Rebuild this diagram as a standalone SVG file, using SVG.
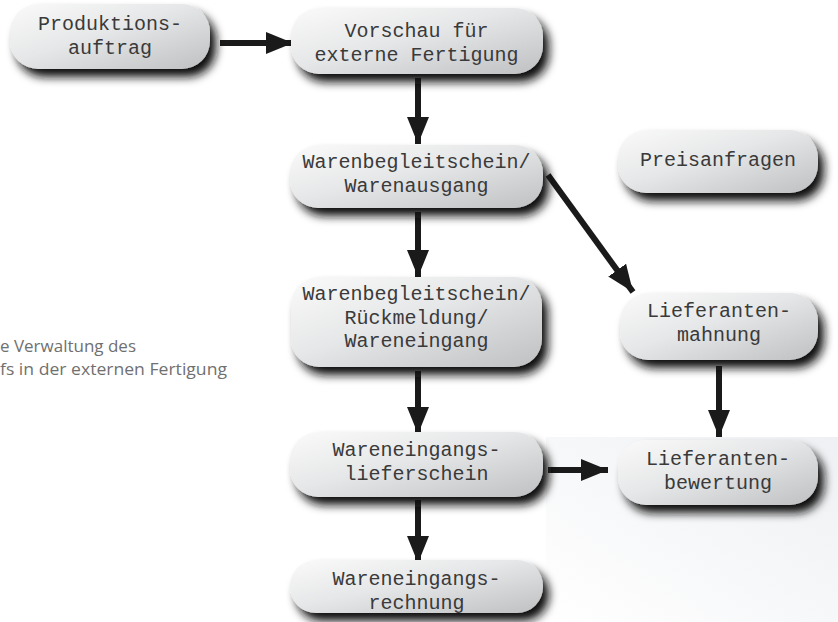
<svg xmlns="http://www.w3.org/2000/svg" width="838" height="622" viewBox="0 0 838 622">
<defs>
<linearGradient id="boxFill" x1="0" y1="0" x2="1" y2="1">
<stop offset="0" stop-color="#fafafa"/>
<stop offset="0.45" stop-color="#e6e7e8"/>
<stop offset="1" stop-color="#bfc0c2"/>
</linearGradient>
<linearGradient id="bgFill" x1="1" y1="0" x2="0" y2="1">
<stop offset="0" stop-color="#eef0f3"/>
<stop offset="1" stop-color="#ffffff"/>
</linearGradient>
<filter id="shadow" x="-20%" y="-30%" width="150%" height="190%">
<feGaussianBlur in="SourceAlpha" stdDeviation="5"/>
<feOffset dx="6" dy="8" result="b"/>
<feFlood flood-color="#111111" flood-opacity="1"/>
<feComposite in2="b" operator="in" result="s"/>
<feMerge><feMergeNode in="s"/><feMergeNode in="SourceGraphic"/></feMerge>
</filter>
<marker id="arrow" markerUnits="userSpaceOnUse" markerWidth="28" markerHeight="24" refX="27" refY="11" orient="auto">
<path d="M0,0 L27,11 L0,22 z" fill="#1a1a1a"/>
</marker>
<style>
.box{fill:url(#boxFill);filter:url(#shadow)}
.lbl{font-family:"Liberation Mono","Courier New",monospace;font-size:20px;fill:#3a3a3a;text-anchor:middle}
.conn{stroke:#1a1a1a;stroke-width:6;fill:none;marker-end:url(#arrow)}
.note{font-family:"Open Sans","Liberation Sans",sans-serif;font-size:17px;fill:#707070}
</style>
</defs>
<rect x="546" y="437" width="292" height="185" fill="url(#bgFill)"/>
<g id="offscreen-node"><rect class="box" x="-200" y="145" width="198" height="63" rx="28"/></g>
<text class="note" x="0" y="352" textLength="136" lengthAdjust="spacingAndGlyphs">e Verwaltung des</text>
<text class="note" x="0" y="375" textLength="227" lengthAdjust="spacingAndGlyphs">fs in der externen Fertigung</text>
<g id="connectors">
<line class="conn" x1="220" y1="43" x2="293" y2="43"/>
<line class="conn" x1="418" y1="78" x2="418" y2="144"/>
<line class="conn" x1="418" y1="212" x2="418" y2="277"/>
<line class="conn" x1="418" y1="371" x2="418" y2="434"/>
<line class="conn" x1="418" y1="500" x2="418" y2="563"/>
<line class="conn" x1="548" y1="175" x2="633" y2="292"/>
<line class="conn" x1="548" y1="470" x2="608" y2="470"/>
<line class="conn" x1="719" y1="366" x2="719" y2="437"/>
</g>
<g id="produktionsauftrag"><rect class="box" x="10" y="4" width="200" height="65" rx="28"/><text class="lbl" x="110" y="30">Produktions-</text><text class="lbl" x="110" y="53.5">auftrag</text></g>
<g id="vorschau"><rect class="box" x="291" y="8" width="252" height="66" rx="28"/><text class="lbl" x="416.5" y="37">Vorschau für</text><text class="lbl" x="416.5" y="60.5">externe Fertigung</text></g>
<g id="warenausgang"><rect class="box" x="290" y="145" width="253" height="63" rx="28"/><text class="lbl" x="416.5" y="168">Warenbegleitschein/</text><text class="lbl" x="416.5" y="191.5">Warenausgang</text></g>
<g id="preisanfragen"><rect class="box" x="618" y="130" width="200" height="63" rx="28"/><text class="lbl" x="718" y="166">Preisanfragen</text></g>
<g id="rueckmeldung"><rect class="box" x="291" y="277" width="251" height="90" rx="28"/><text class="lbl" x="416.5" y="300">Warenbegleitschein/</text><text class="lbl" x="416.5" y="323.5">Rückmeldung/</text><text class="lbl" x="416.5" y="347">Wareneingang</text></g>
<g id="lieferantenmahnung"><rect class="box" x="620" y="293" width="198" height="67" rx="28"/><text class="lbl" x="719" y="317">Lieferanten-</text><text class="lbl" x="719" y="340.5">mahnung</text></g>
<g id="lieferschein"><rect class="box" x="290" y="432" width="253" height="65" rx="28"/><text class="lbl" x="416.5" y="456">Wareneingangs-</text><text class="lbl" x="416.5" y="479.5">lieferschein</text></g>
<g id="lieferantenbewertung"><rect class="box" x="618" y="440" width="200" height="65" rx="28"/><text class="lbl" x="718" y="465">Lieferanten-</text><text class="lbl" x="718" y="488.5">bewertung</text></g>
<g id="rechnung"><rect class="box" x="290" y="560" width="253" height="53" rx="26"/><text class="lbl" x="416.5" y="585">Wareneingangs-</text><text class="lbl" x="416.5" y="608.5">rechnung</text></g>
</svg>
